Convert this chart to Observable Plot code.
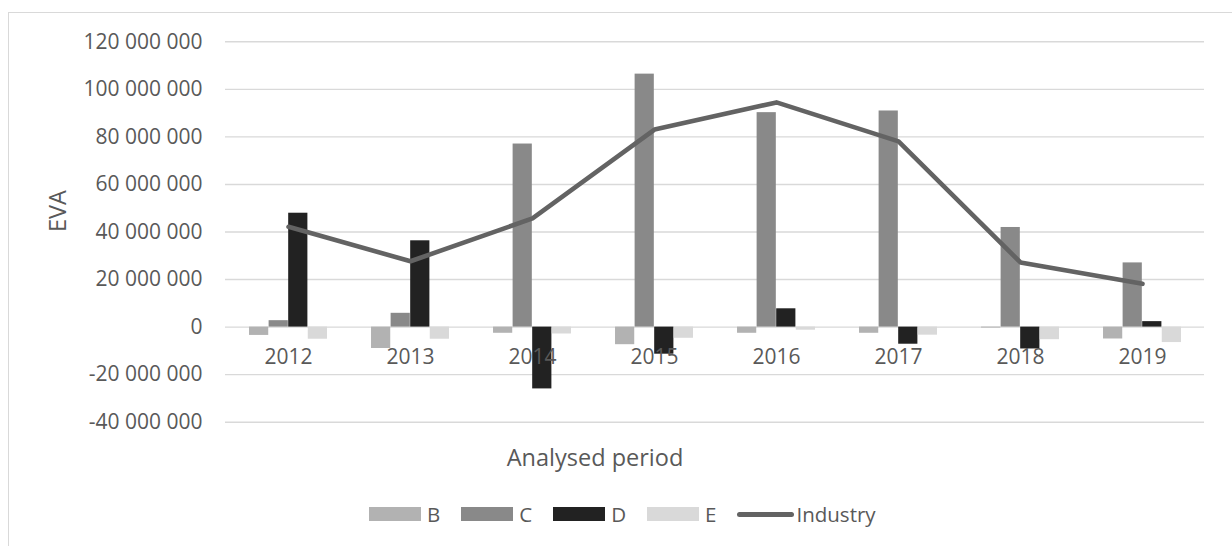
<!DOCTYPE html>
<html><head><meta charset="utf-8">
<script src="https://cdn.jsdelivr.net/npm/d3@7"></script>
<script src="https://cdn.jsdelivr.net/npm/@observablehq/plot@0.6"></script>
<style>
html,body{margin:0;padding:0;background:#fff;}
#wrap{position:relative;width:1232px;height:546px;overflow:hidden;font-family:"Open Sans",sans-serif;color:#595959;}
#frame{position:absolute;left:8px;top:12px;width:1300px;height:600px;border:1.5px solid #d9d9d9;box-sizing:border-box;}
#chart{position:absolute;left:0;top:0;}
#legend{position:absolute;left:369px;top:500px;display:flex;align-items:center;font-size:20.5px;line-height:28px;white-space:nowrap;}
.sw{display:inline-block;width:52px;height:13.5px;margin-right:6px;}
.lab{margin-right:21px;}
.ln{display:inline-block;width:57px;height:5px;border-radius:3px;background:#636363;margin-right:2px;}
</style>
</head><body>
<div id="wrap"><div id="frame"></div><div id="chart"></div><div id="legend"></div></div>
<script>
const years = ["2012","2013","2014","2015","2016","2017","2018","2019"];
const seriesNames = ["B","C","D","E"];
const B = [-3500000, -9000000, -2600000, -7400000, -2600000, -2600000, -400000, -5000000];
const C = [2700000, 5800000, 77000000, 106400000, 90200000, 90900000, 41900000, 27000000];
const D = [47900000, 36300000, -26000000, -11400000, 7700000, -7200000, -9200000, 2300000];
const E = [-5100000, -5100000, -2900000, -4700000, -1300000, -3400000, -5300000, -6500000];
const Industry = [42200000, 27700000, 45700000, 83100000, 94500000, 78100000, 27200000, 18200000];
const yTicks = [-40000000, -20000000, 0, 20000000, 40000000, 60000000, 80000000, 100000000, 120000000];
const colors = {B:"#b2b2b2", C:"#898989", D:"#222222", E:"#d9d9d9"};
const lineColor = "#636363";

const rows = years.map((y,i)=>({year:y, B:B[i], C:C[i], D:D[i], E:E[i], Industry:Industry[i]}));

const W=1232, H=546, ML=225, MR=28, MT=41.3, MB=124.3;
const step=(W-ML-MR)/years.length, barW=step*0.16, off=(step-4*barW)/2;

const loc = d3.formatLocale({decimal:".", thousands:" ", grouping:[3], currency:["",""], minus:"-"});
const fmt = loc.format(",d");

const chart = Plot.plot({
  width: W, height: H,
  marginLeft: ML, marginRight: MR, marginTop: MT, marginBottom: MB,
  style: {fontFamily:"Open Sans", fontSize:"21px", color:"#595959", background:"transparent"},
  x: {domain: years, padding: 0, axis: null},
  y: {domain: [-40000000, 120000000], axis: null},
  marks: [
    Plot.gridY({ticks: yTicks, stroke:"#d9d9d9", strokeOpacity:1, strokeWidth:1.4}),
    ...seriesNames.map((s,i)=>Plot.barY(rows, {x:"year", y:s, fill:colors[s], insetLeft: off+i*barW, insetRight: step-off-(i+1)*barW})),
    Plot.line(rows, {x:"year", y:"Industry", stroke:lineColor, strokeWidth:4.6, strokeLinecap:"round", strokeLinejoin:"round"}),
    Plot.axisY({ticks: yTicks, tickSize:0, tickPadding:23, tickFormat: fmt, label:null, fill:"#595959"}),
    Plot.text(years, {x:d=>d, y:()=>0, dy:30.5, fill:"#595959"}),
    Plot.text(["EVA"], {text:d=>d, frameAnchor:"left", rotate:-90, dx:-167, fontSize:23.5, fill:"#595959"}),
    Plot.text(["Analysed period"], {text:d=>d, frameAnchor:"bottom", dx:-120, dy:44, fontSize:23.5, fill:"#595959"})
  ]
});
document.getElementById("chart").appendChild(chart);

const leg = document.getElementById("legend");
seriesNames.forEach(s=>{
  const sw=document.createElement("span"); sw.className="sw"; sw.style.background=colors[s]; leg.appendChild(sw);
  const t=document.createElement("span"); t.className="lab"; t.textContent=s; leg.appendChild(t);
});
const ln=document.createElement("span"); ln.className="ln"; leg.appendChild(ln);
const tI=document.createElement("span"); tI.textContent="Industry"; leg.appendChild(tI);
</script>
</body></html>
